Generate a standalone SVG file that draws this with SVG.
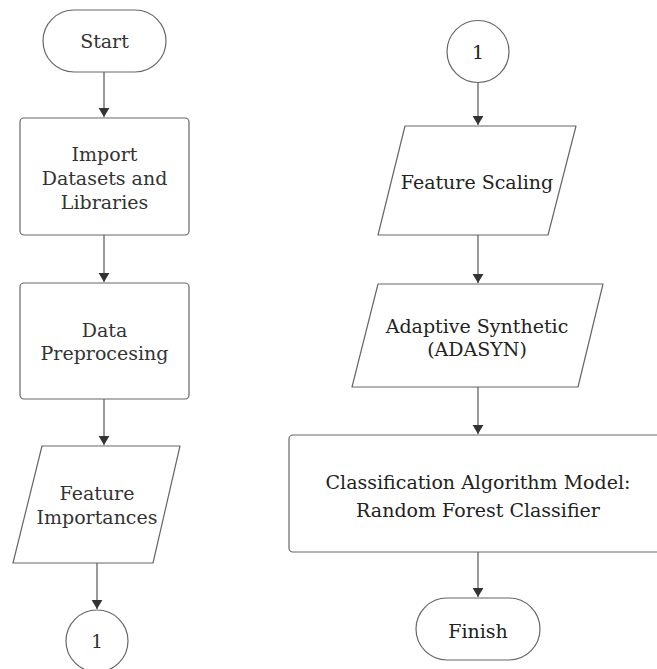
<svg xmlns="http://www.w3.org/2000/svg" width="657" height="669" viewBox="0 0 657 669">
<style>
.shape{fill:#ffffff;stroke:#666666;stroke-width:1.2;stroke-linejoin:round}
.lbl{font-family:"DejaVu Serif","Liberation Serif",serif;font-size:19px;fill:#333333;text-anchor:middle}
.dk{fill:#222222}
.conn{stroke:#555555;stroke-width:1.2;fill:none;marker-end:url(#arr)}
</style>
<defs>
<marker id="arr" viewBox="0 0 10 12" refX="10" refY="6" markerUnits="userSpaceOnUse" markerWidth="9" markerHeight="12" orient="auto">
<path d="M0,0 L10,6 L0,12 Z" fill="#333333"/>
</marker>
</defs>
<rect width="657" height="669" fill="#ffffff"/>
<g id="connectors">
<line class="conn" x1="104" y1="72" x2="104" y2="117"/>
<line class="conn" x1="104" y1="235" x2="104" y2="282"/>
<line class="conn" x1="104" y1="399" x2="104" y2="445"/>
<line class="conn" x1="97" y1="563" x2="97" y2="609"/>
<line class="conn" x1="478" y1="82" x2="478" y2="125"/>
<line class="conn" x1="478" y1="235" x2="478" y2="283"/>
<line class="conn" x1="478" y1="387" x2="478" y2="434"/>
<line class="conn" x1="478" y1="552" x2="478" y2="597"/>
</g>
<g id="start">
<rect class="shape" x="43" y="10" width="123" height="62" rx="31"/>
<text class="lbl" x="104.5" y="48">Start</text>
</g>
<g id="import">
<rect class="shape" x="20" y="118" width="169" height="117" rx="4"/>
<text class="lbl" x="104.5" y="161">Import</text>
<text class="lbl" x="104.5" y="185">Datasets and</text>
<text class="lbl" x="104.5" y="209">Libraries</text>
</g>
<g id="preprocess">
<rect class="shape" x="20" y="283" width="169" height="116" rx="4"/>
<text class="lbl" x="104.5" y="337">Data</text>
<text class="lbl" x="104.5" y="360">Preprocesing</text>
</g>
<g id="importances">
<polygon class="shape" points="42,446 180,446 153,563 13,563"/>
<text class="lbl" x="97" y="500">Feature</text>
<text class="lbl" x="97" y="524">Importances</text>
</g>
<g id="conn-out">
<circle class="shape" cx="97" cy="641" r="31"/>
<text class="lbl" x="97" y="648">1</text>
</g>
<g id="conn-in">
<circle class="shape" cx="478" cy="51.5" r="31"/>
<text class="lbl dk" x="478" y="59">1</text>
</g>
<g id="scaling">
<polygon class="shape" points="405,126 576,126 548,235 378,235"/>
<text class="lbl dk" x="477" y="189">Feature Scaling</text>
</g>
<g id="adasyn">
<polygon class="shape" points="378,284 603,284 578,387 352,387"/>
<text class="lbl dk" x="477" y="333">Adaptive Synthetic</text>
<text class="lbl dk" x="477" y="356">(ADASYN)</text>
</g>
<g id="classifier">
<rect class="shape" x="289" y="435" width="378" height="117" rx="4"/>
<text class="lbl dk" x="478" y="489">Classification Algorithm Model:</text>
<text class="lbl dk" x="478" y="517">Random Forest Classifier</text>
</g>
<g id="finish">
<rect class="shape" x="416" y="598" width="124" height="62" rx="31"/>
<text class="lbl dk" x="478" y="638">Finish</text>
</g>
</svg>
